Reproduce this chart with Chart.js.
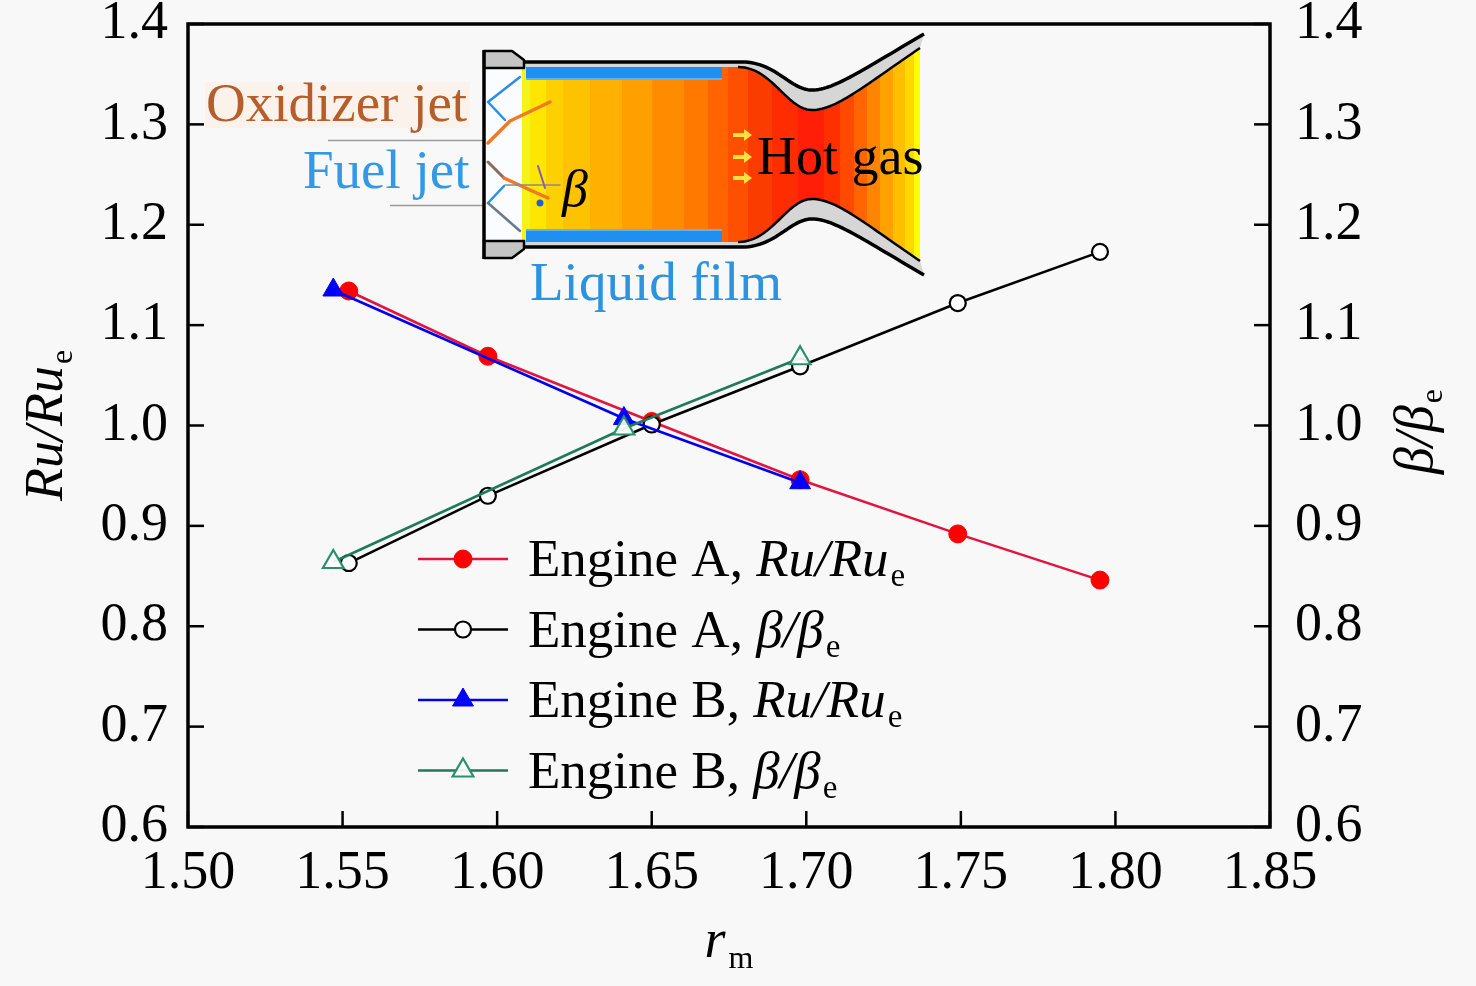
<!DOCTYPE html>
<html><head><meta charset="utf-8">
<script src="https://cdn.jsdelivr.net/npm/chart.js@4/dist/chart.umd.min.js"></script>
<style>html,body{margin:0;padding:0;background:#f8f8f8;}canvas{display:block;}</style>
</head><body>
<canvas id="c" width="1476" height="986"></canvas>
<script>
// ---- data ----
const xTickValues = [1.50, 1.55, 1.60, 1.65, 1.70, 1.75, 1.80, 1.85];
const xTickLabels = ['1.50', '1.55', '1.60', '1.65', '1.70', '1.75', '1.80', '1.85'];
const yTickValues = [0.6, 0.7, 0.8, 0.9, 1.0, 1.1, 1.2, 1.3, 1.4];
const yTickLabels = ['0.6', '0.7', '0.8', '0.9', '1.0', '1.1', '1.2', '1.3', '1.4'];

const rmA = [1.552, 1.597, 1.650, 1.698, 1.749, 1.795];
const ruA = [1.134, 1.069, 1.004, 0.946, 0.892, 0.846];
const betaA = [0.863, 0.930, 1.001, 1.059, 1.122, 1.173];

const rmB = [1.547, 1.641, 1.698];
const ruB = [1.135, 1.007, 0.943];
const betaB = [0.864, 0.997, 1.067];

const seriesNames = ['Engine A, Ru/Rue', 'Engine A, β/βe', 'Engine B, Ru/Rue', 'Engine B, β/βe'];

// ---- helpers ----
const FAM = '"Liberation Serif", "Times New Roman", serif';
const fN = s => `${s}px ${FAM}`;
const fI = s => `italic ${s}px ${FAM}`;
const pts = (xs, ys) => xs.map((x, i) => ({x: x, y: ys[i]}));

function drawRich(ctx, parts, x, y, align) {
  let w = 0;
  parts.forEach(p => { ctx.font = p.f; p.w = ctx.measureText(p.t).width + (p.gap || 0); w += p.w; });
  let cx = align === 'center' ? x - w / 2 : x;
  parts.forEach(p => { ctx.font = p.f; ctx.fillText(p.t, cx + (p.pre || 0), y + (p.dy || 0)); cx += p.w; });
}

function bez(p0, p1, p2, p3, n) {
  const out = [];
  for (let i = 1; i <= n; i++) {
    const t = i / n, u = 1 - t;
    out.push([u*u*u*p0[0] + 3*u*u*t*p1[0] + 3*u*t*t*p2[0] + t*t*t*p3[0],
              u*u*u*p0[1] + 3*u*u*t*p1[1] + 3*u*t*t*p2[1] + t*t*t*p3[1]]);
  }
  return out;
}

function poly(ctx, ps) {
  ctx.beginPath();
  ps.forEach((p, i) => i ? ctx.lineTo(p[0], p[1]) : ctx.moveTo(p[0], p[1]));
}

function drawInset(ctx) {
  const cy = 154.5;
  const mir = ps => ps.map(p => [p[0], 2 * cy - p[1]]);
  const topOuter = [[522, 62], [742, 62]]
    .concat(bez([742, 62], [776, 62], [790, 90], [812, 90], 30))
    .concat(bez([812, 90], [834, 90], [862, 70], [924, 34], 30));
  const topInner = [[522, 67], [738, 67]]
    .concat(bez([738, 67], [772, 67], [787, 110], [812, 110], 30))
    .concat(bez([812, 110], [836, 110], [864, 86], [920, 48], 30));
  const botOuter = mir(topOuter), botInner = mir(topInner);

  ctx.save();
  // text backgrounds
  ctx.fillStyle = '#fbf2ec';
  ctx.fillRect(205, 82, 265, 46);
  // leader lines
  ctx.strokeStyle = '#9a9a9a'; ctx.lineWidth = 1.5;
  ctx.beginPath(); ctx.moveTo(328, 140.5); ctx.lineTo(484, 140.5); ctx.stroke();
  ctx.beginPath(); ctx.moveTo(390, 205.5); ctx.lineTo(484, 205.5); ctx.stroke();

  // injector interior
  ctx.fillStyle = '#fafcff';
  ctx.fillRect(484, 66, 40, 178);

  // gas region with colour bands
  const gas = topInner.concat(botInner.slice().reverse());
  ctx.save();
  poly(ctx, gas); ctx.closePath(); ctx.clip();
  const bands = [[519, '#f6f21a'], [530, '#ffe600'], [546, '#ffd000'], [563, '#ffc200'], [590, '#ffb000'],
    [622, '#ffa000'], [652, '#ff8c00'], [684, '#ff7800'], [708, '#ff6400'], [728, '#ff5000'],
    [748, '#fb3c00'], [772, '#ff2c00'], [798, '#ff1e08'], [824, '#ff3000'], [840, '#ff4a00'],
    [854, '#ff6600'], [867, '#ff8400'], [880, '#ffa200'], [893, '#ffbe00'], [905, '#ffd800'],
    [914, '#ffff00'], [924, null]];
  for (let i = 0; i < bands.length - 1; i++) {
    ctx.fillStyle = bands[i][1];
    ctx.fillRect(bands[i][0], 20, bands[i + 1][0] - bands[i][0] + 0.5, 270);
  }
  // liquid film
  ctx.fillStyle = '#1f8ff0';
  ctx.fillRect(526, 67, 196, 11);
  ctx.fillRect(526, 231, 196, 11);
  ctx.fillStyle = '#5ab4f8';
  ctx.fillRect(526, 78, 196, 2);
  ctx.fillRect(526, 229, 196, 2);
  ctx.restore();

  // hot gas arrows
  ctx.fillStyle = '#ffe040'; ctx.strokeStyle = '#ffe040'; ctx.lineWidth = 4;
  [135, 157, 178].forEach(y => {
    ctx.beginPath(); ctx.moveTo(733, y); ctx.lineTo(745, y); ctx.stroke();
    ctx.beginPath(); ctx.moveTo(744, y - 6); ctx.lineTo(752, y); ctx.lineTo(744, y + 6); ctx.closePath(); ctx.fill();
  });

  // walls
  [[topOuter, topInner], [botOuter, botInner]].forEach(([o, inn]) => {
    poly(ctx, o.concat(inn.slice().reverse())); ctx.closePath();
    ctx.fillStyle = '#d6d6d6'; ctx.fill();
    ctx.strokeStyle = '#000'; ctx.lineWidth = 3.5; ctx.lineJoin = 'round';
    poly(ctx, o); ctx.stroke();
    ctx.lineWidth = 2.5;
    poly(ctx, inn.filter(p => p[0] >= 735)); ctx.stroke();
  });

  // injector flanges
  const flTop = [[484, 51], [512, 51], [524, 60], [524, 68], [484, 68]];
  [flTop, mir(flTop)].forEach(f => {
    poly(ctx, f); ctx.closePath();
    ctx.fillStyle = '#c4c4c4'; ctx.fill();
    ctx.strokeStyle = '#000'; ctx.lineWidth = 2.5; ctx.stroke();
  });
  ctx.lineWidth = 3.5; ctx.strokeStyle = '#000';
  ctx.beginPath(); ctx.moveTo(484, 50); ctx.lineTo(484, 259); ctx.stroke();

  // jets
  ctx.lineCap = 'round';
  const seg = (ps, col, w) => { ctx.strokeStyle = col; ctx.lineWidth = w; poly(ctx, ps); ctx.stroke(); };
  seg([[520, 77], [488, 102], [505, 120]], '#2a8ee8', 2.5);
  seg([[488, 143], [510, 121], [550, 102]], '#f07a28', 3.5);
  seg([[488, 162], [504, 178]], '#8a6a5a', 3);
  seg([[504, 178], [530, 190], [548, 198]], '#f07828', 3.5);
  seg([[488, 203], [504, 186]], '#2a8ee8', 2.5);
  seg([[488, 203], [520, 231]], '#6a7a8a', 2.5);
  seg([[505, 185], [560, 185]], '#8a8a8a', 1.5);
  seg([[538, 166], [545, 188]], '#8a5ab8', 2);
  ctx.fillStyle = '#2a5ad8';
  ctx.beginPath(); ctx.arc(540, 203, 3.5, 0, Math.PI * 2); ctx.fill();

  // texts
  ctx.textBaseline = 'alphabetic'; ctx.textAlign = 'left';
  ctx.fillStyle = '#b55e2c'; ctx.font = fN(55);
  ctx.fillText('Oxidizer jet', 206, 121);
  ctx.fillStyle = '#3399e6';
  ctx.fillText('Fuel jet', 303, 188);
  ctx.fillStyle = '#2b93e0';
  ctx.fillText('Liquid film', 530, 300);
  ctx.fillStyle = '#000'; ctx.font = fN(54);
  ctx.fillText('Hot gas', 757, 174);
  ctx.font = fI(52);
  ctx.fillText('β', 562, 206);
  ctx.restore();
}

const decor = {
  id: 'decor',
  beforeDraw(chart) {
    const ctx = chart.ctx;
    ctx.save(); ctx.fillStyle = '#f8f8f8'; ctx.fillRect(0, 0, chart.width, chart.height); ctx.restore();
  },
  beforeDatasetsDraw(chart) { drawInset(chart.ctx); },
  afterDatasetsDraw(chart) {
    const ctx = chart.ctx, a = chart.chartArea;
    ctx.save();
    ctx.strokeStyle = '#000'; ctx.lineWidth = 2.5;
    const TL = 16;
    const sx = chart.scales.x, sy = chart.scales.y, sy2 = chart.scales.y2;
    sx.ticks.forEach((t, i) => {
      const px = sx.getPixelForTick(i);
      ctx.beginPath(); ctx.moveTo(px, a.bottom); ctx.lineTo(px, a.bottom - TL); ctx.stroke();
    });
    sy.ticks.forEach((t, i) => {
      const py = sy.getPixelForTick(i);
      ctx.beginPath(); ctx.moveTo(a.left, py); ctx.lineTo(a.left + TL, py); ctx.stroke();
    });
    sy2.ticks.forEach((t, i) => {
      const py = sy2.getPixelForTick(i);
      ctx.beginPath(); ctx.moveTo(a.right, py); ctx.lineTo(a.right - TL, py); ctx.stroke();
    });
    ctx.lineWidth = 3.5;
    ctx.strokeRect(a.left, a.top, a.right - a.left, a.bottom - a.top);
    ctx.restore();
  },
  afterDraw(chart) {
    const ctx = chart.ctx, a = chart.chartArea;
    ctx.save();
    ctx.fillStyle = '#000'; ctx.textBaseline = 'alphabetic'; ctx.textAlign = 'left';
    // legend
    const LF = 53;
    const rich = [
      [{t: 'Engine A, ', f: fN(LF)}, {t: 'Ru/Ru', f: fI(LF), gap: 2}, {t: 'e', f: fN(33), dy: 10}],
      [{t: 'Engine A, ', f: fN(LF)}, {t: 'β/β', f: fI(LF), gap: 2}, {t: 'e', f: fN(33), dy: 10}],
      [{t: 'Engine B, ', f: fN(LF)}, {t: 'Ru/Ru', f: fI(LF), gap: 2}, {t: 'e', f: fN(33), dy: 10}],
      [{t: 'Engine B, ', f: fN(LF)}, {t: 'β/β', f: fI(LF), gap: 2}, {t: 'e', f: fN(33), dy: 10}]
    ];
    const ly0 = 559, ldy = 70.5, lx0 = 418, lx1 = 508, tx = 528;
    chart.data.datasets.forEach((ds, i) => {
      const y = ly0 + i * ldy;
      ctx.strokeStyle = ds.borderColor; ctx.lineWidth = ds.borderWidth;
      ctx.beginPath(); ctx.moveTo(lx0, y); ctx.lineTo(lx1, y); ctx.stroke();
      ctx.fillStyle = ds.pointBackgroundColor; ctx.strokeStyle = ds.pointBorderColor;
      ctx.lineWidth = ds.pointBorderWidth;
      Chart.helpers.drawPoint(ctx, {pointStyle: ds.pointStyle, radius: ds.pointRadius, borderWidth: ds.pointBorderWidth, rotation: 0}, (lx0 + lx1) / 2, y);
      ctx.fillStyle = '#000';
      drawRich(ctx, rich[i], tx, y + 17, 'left');
    });
    // axis titles
    const cyMid = (a.top + a.bottom) / 2, cxMid = (a.left + a.right) / 2;
    drawRich(ctx, [{t: 'r', f: fI(54), gap: 3}, {t: 'm', f: fN(32), dy: 11}], cxMid, 957, 'center');
    ctx.save(); ctx.translate(62, cyMid); ctx.rotate(-Math.PI / 2);
    drawRich(ctx, [{t: 'Ru/Ru', f: fI(54), gap: 2}, {t: 'e', f: fN(32), dy: 10}], 0, 0, 'center');
    ctx.restore();
    ctx.save(); ctx.translate(1432, cyMid + 6); ctx.rotate(-Math.PI / 2);
    drawRich(ctx, [{t: 'β/β', f: fI(54), gap: 2}, {t: 'e', f: fN(32), dy: 10}], 0, 0, 'center');
    ctx.restore();
    ctx.restore();
  }
};

const tickFont = {family: FAM, size: 54};
const yScale = (pos, w, pad) => ({
  type: 'linear', position: pos, min: 0.6, max: 1.4,
  afterBuildTicks: s => { s.ticks = yTickValues.map(v => ({value: v})); },
  ticks: {callback: (v, i) => yTickLabels[i], font: tickFont, color: '#000', padding: pad, autoSkip: false},
  grid: {display: false, drawTicks: false}, border: {display: false},
  afterFit: s => { s.width = w; s.paddingTop = 0; s.paddingBottom = 0; }
});

new Chart(document.getElementById('c'), {
  type: 'line',
  data: {
    datasets: [
      {label: seriesNames[0], data: pts(rmA, ruA), yAxisID: 'y', borderColor: '#e3143e', borderWidth: 2.5,
       pointStyle: 'circle', pointRadius: 9, pointBackgroundColor: '#ff0000', pointBorderColor: '#ff0000', pointBorderWidth: 1, order: 4},
      {label: seriesNames[1], data: pts(rmA, betaA), yAxisID: 'y2', borderColor: '#000000', borderWidth: 2.5,
       pointStyle: 'circle', pointRadius: 8, pointBackgroundColor: '#ffffff', pointBorderColor: '#000000', pointBorderWidth: 2.2, order: 3},
      {label: seriesNames[2], data: pts(rmB, ruB), yAxisID: 'y', borderColor: '#0000f0', borderWidth: 2.5,
       pointStyle: 'triangle', pointRadius: 12, pointBackgroundColor: '#0000ff', pointBorderColor: '#0000ff', pointBorderWidth: 1, order: 2},
      {label: seriesNames[3], data: pts(rmB, betaB), yAxisID: 'y2', borderColor: '#1f7a5c', borderWidth: 2.5,
       pointStyle: 'triangle', pointRadius: 12, pointBackgroundColor: 'rgba(255,255,255,0.9)', pointBorderColor: '#28906e', pointBorderWidth: 2.2, order: 1}
    ]
  },
  options: {
    responsive: false, animation: false, devicePixelRatio: 1,
    layout: {padding: {top: 24, left: 0, right: 0, bottom: 0}},
    plugins: {legend: {display: false}, tooltip: {enabled: false}},
    elements: {line: {tension: 0}},
    scales: {
      x: {
        type: 'linear', min: 1.5, max: 1.85,
        afterBuildTicks: s => { s.ticks = xTickValues.map(v => ({value: v})); },
        ticks: {callback: (v, i) => xTickLabels[i], font: tickFont, color: '#000', padding: 14, maxRotation: 0, autoSkip: false},
        grid: {display: false, drawTicks: false}, border: {display: false},
        afterFit: s => { s.height = 159; s.paddingLeft = 0; s.paddingRight = 0; }
      },
      y: yScale('left', 188, 20),
      y2: yScale('right', 206, 25)
    }
  },
  plugins: [decor]
});
</script>
</body></html>
